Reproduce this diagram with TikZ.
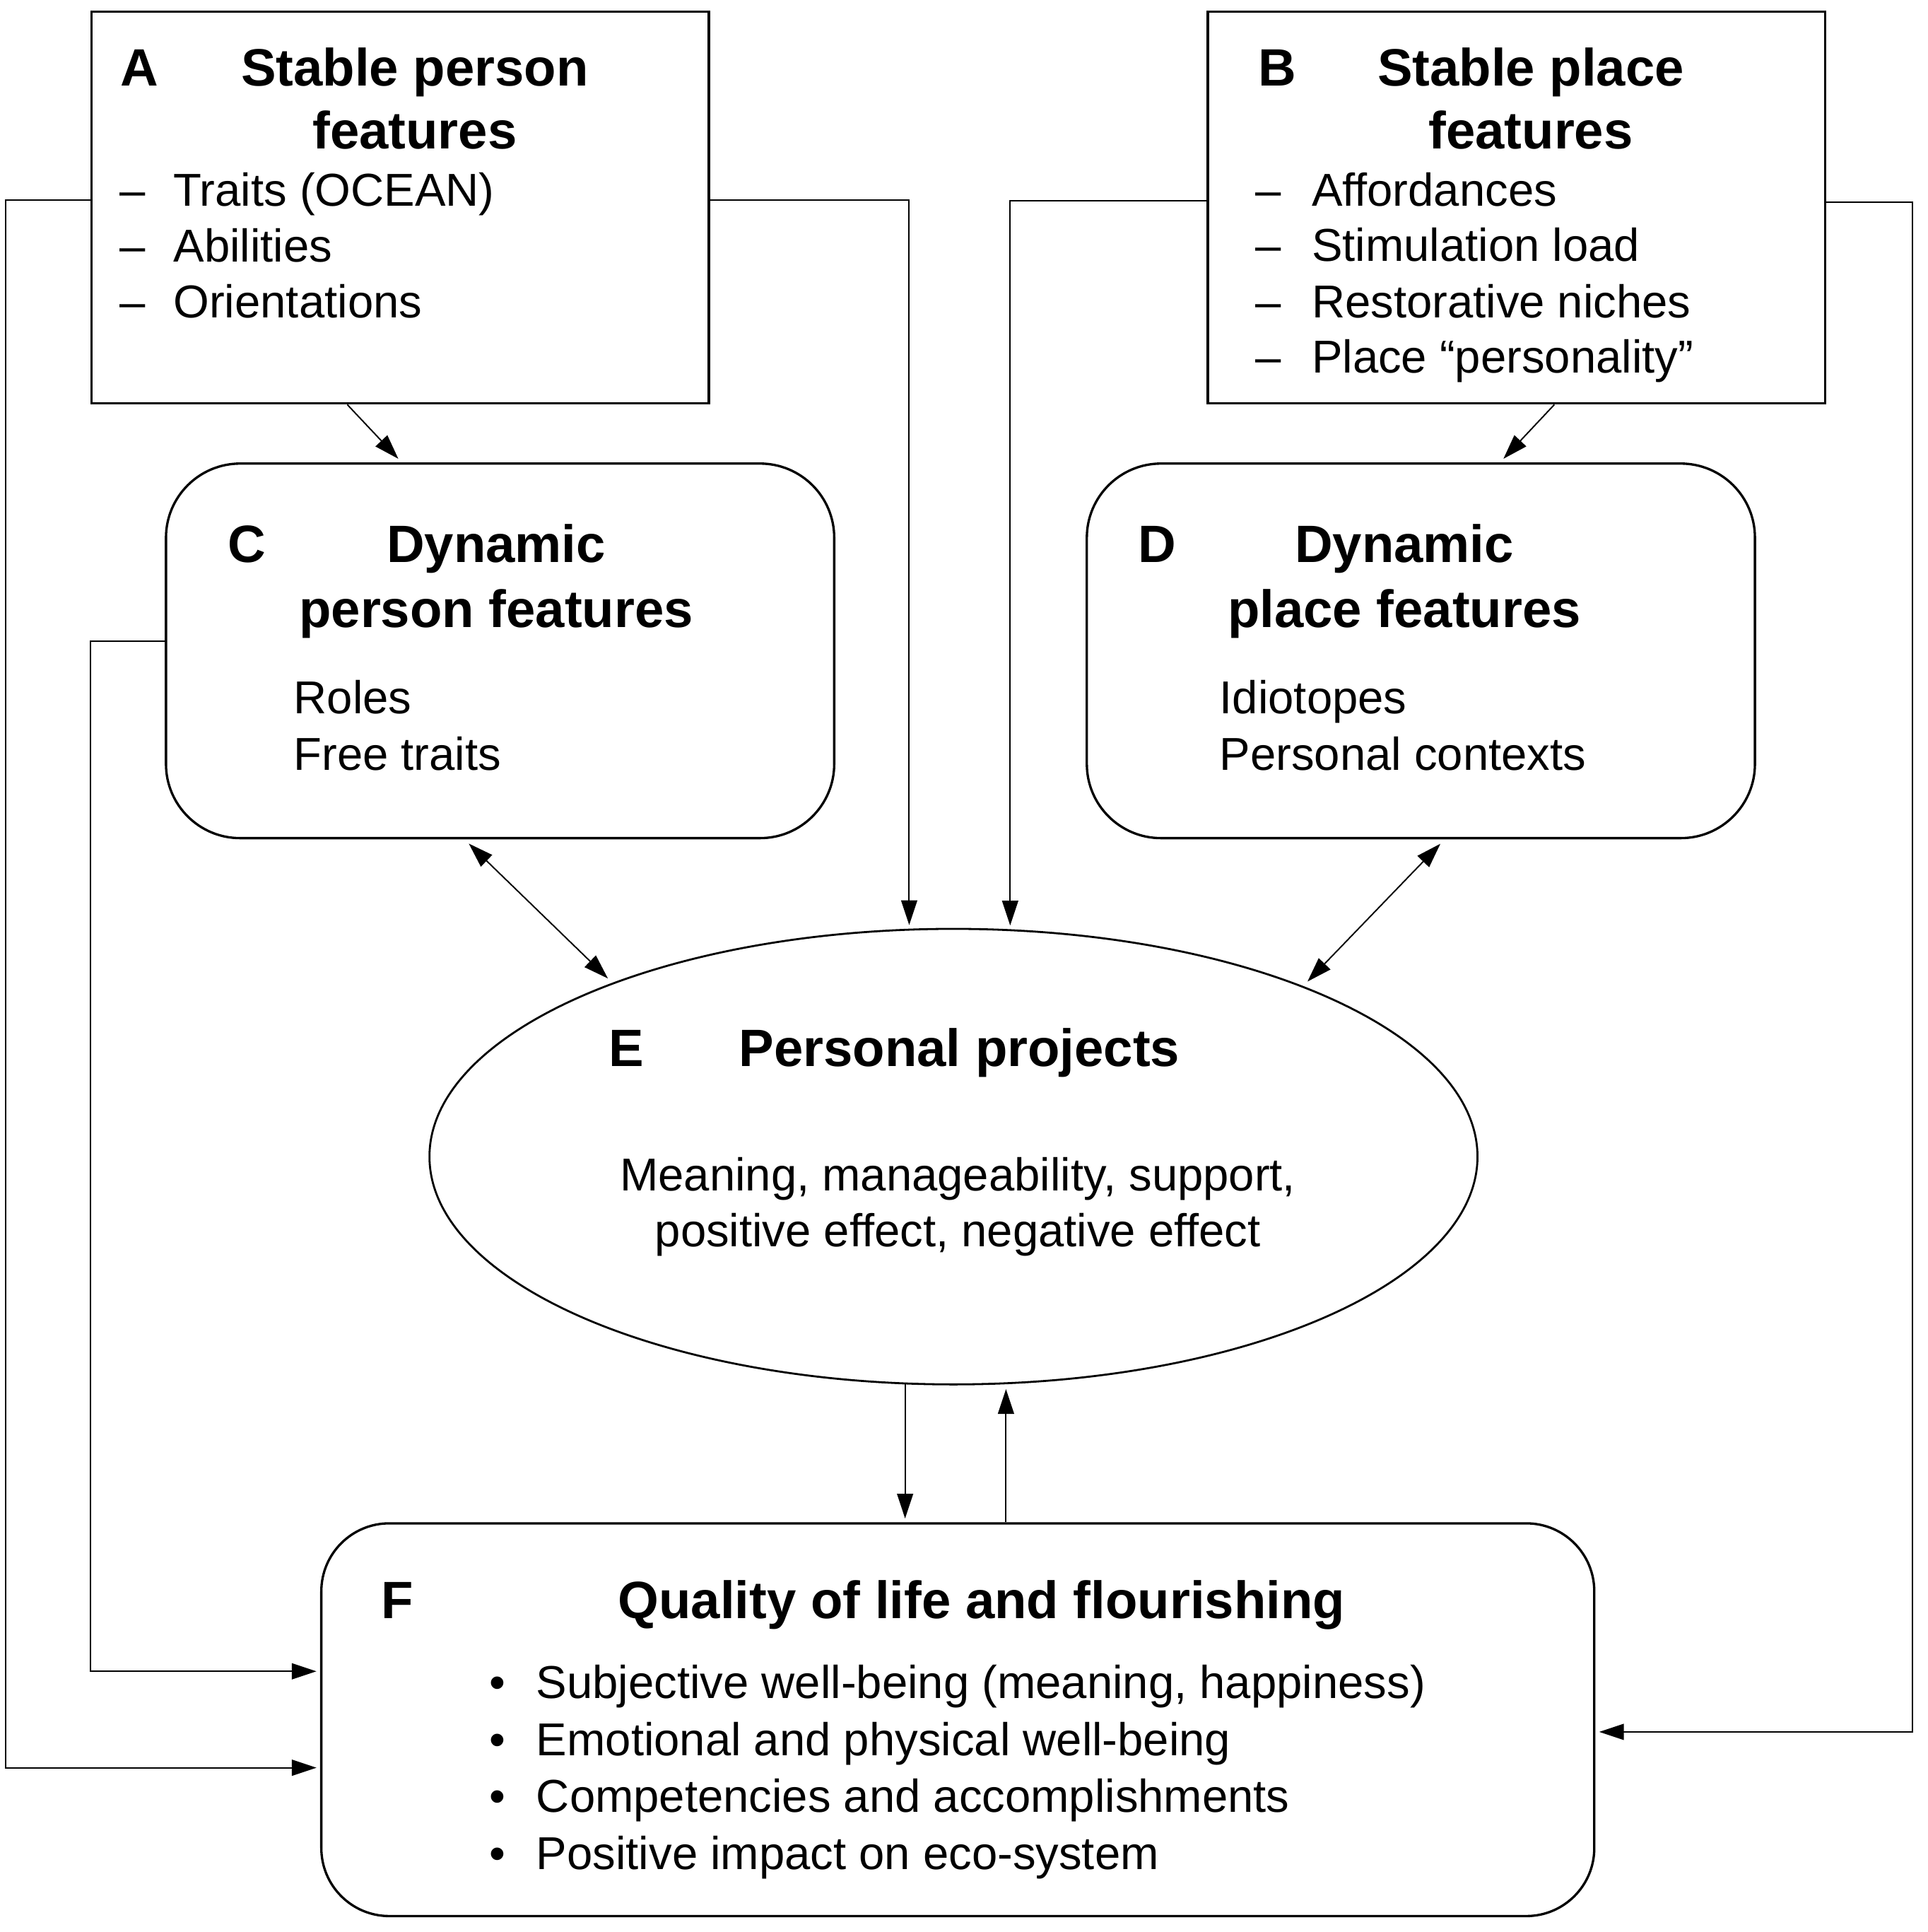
\documentclass[tikz,border=0pt]{standalone}
\usepackage{fontspec}
\setmainfont{Liberation Sans}
\usetikzlibrary{shapes.geometric,arrows.meta,calc}
\newcommand\ttlfont{\fontsize{21.25pt}{25pt}\selectfont\bfseries}
\newcommand\bodyfont{\fontsize{18.65pt}{23pt}\selectfont}
\begin{document}
\begin{tikzpicture}[x=0.5pt,y=-0.5pt,
  sqbox/.style={draw=black, line width=0.95pt, rectangle, inner sep=0pt},
  rbox/.style={draw=black, line width=0.95pt, rectangle, rounded corners=30pt, inner sep=0pt},
  ell/.style={draw=black, line width=0.8pt, ellipse, inner sep=0pt},
  conn/.style={line width=0.55pt, -{Triangle[length=10pt,width=6.5pt]}, shorten >=1.5pt},
  dconn/.style={line width=0.55pt, {Triangle[length=10pt,width=6.5pt]}-{Triangle[length=10pt,width=6.5pt]}, shorten >=2.5pt, shorten <=2.5pt},
  ttl/.style={inner sep=0pt, anchor=base, font=\ttlfont},
  ttlw/.style={inner sep=0pt, anchor=base west, font=\ttlfont},
  txt/.style={inner sep=0pt, anchor=base west, font=\bodyfont},
  txtc/.style={inner sep=0pt, anchor=base, font=\bodyfont},
]
\useasboundingbox (0,0) rectangle (1560,1562.9);

% ---------- boxes ----------
\node[sqbox, minimum width=249.75pt, minimum height=158.4pt] (A) at (323.75,168) {};
\node[sqbox, minimum width=249.7pt, minimum height=158.4pt] (B) at (1227,168) {};
\node[rbox, minimum width=270.35pt, minimum height=151.5pt] (C) at (404.65,526.5) {};
\node[rbox, minimum width=270.3pt, minimum height=151.5pt] (D) at (1149.7,526.5) {};
\node[ell, minimum width=424pt, minimum height=184.25pt] (E) at (771.5,935.65) {};
\node[rbox, rounded corners=27.5pt, minimum width=515pt, minimum height=158.85pt] (F) at (775,1391.15) {};

% ---------- texts A ----------
\node[ttlw] (Al) at (97.2,69.6) {A};
\node[ttl] (At1) at (335.6,69.6) {Stable person};
\node[ttl] (At2) at (335.6,120.5) {features};
\node[txt] (Ad1) at (96.6,166.8) {–};
\node[txt] (Ad2) at (96.6,211.6) {–};
\node[txt] (Ad3) at (96.6,256.8) {–};
\node[txt] (Ai1) at (140,166.8) {Traits (OCEAN)};
\node[txt] (Ai2) at (140,211.6) {Abilities};
\node[txt] (Ai3) at (140,256.8) {Orientations};

% ---------- texts B ----------
\node[ttlw] (Bl) at (1017.8,69.6) {B};
\node[ttl] (Bt1) at (1238.7,69.6) {Stable place};
\node[ttl] (Bt2) at (1238.7,120.5) {features};
\node[txt] (Bd1) at (1015.3,166.5) {–};
\node[txt] (Bd2) at (1015.3,211.5) {–};
\node[txt] (Bd3) at (1015.3,256.8) {–};
\node[txt] (Bd4) at (1015.3,301.9) {–};
\node[txt] (Bi1) at (1061,166.5) {Affordances};
\node[txt] (Bi2) at (1061,211.5) {Stimulation load};
\node[txt] (Bi3) at (1061,256.8) {Restorative niches};
\node[txt] (Bi4) at (1061,301.9) {Place “personality”};

% ---------- texts C ----------
\node[ttlw] (Cl) at (184,455) {C};
\node[ttl] (Ct1) at (401.5,455) {Dynamic};
\node[ttl] (Ct2) at (401.5,507.5) {person features};
\node[txt] (Ci1) at (237.3,577.5) {Roles};
\node[txt] (Ci2) at (237.3,623) {Free traits};

% ---------- texts D ----------
\node[ttlw] (Dl) at (920.3,455) {D};
\node[ttl] (Dt1) at (1136.3,455) {Dynamic};
\node[ttl] (Dt2) at (1136.3,507.5) {place features};
\node[txt] (Di1) at (986.5,577.5) {Idiotopes};
\node[txt] (Di2) at (986.5,623) {Personal contexts};

% ---------- texts E ----------
\node[ttlw] (El) at (492,862.4) {E};
\node[ttl] (Et) at (776.3,862.4) {Personal projects};
\node[txtc] (Ei1) at (775,963.4) {Meaning, manageability, support,};
\node[txtc] (Ei2) at (775,1008.2) {positive effect, negative effect};

% ---------- texts F ----------
\node[ttlw] (Fl) at (308.3,1309) {F};
\node[ttl] (Ft) at (794.2,1309) {Quality of life and flourishing};
\node[txt] (Fb1) at (395.8,1374) {•};
\node[txt] (Fb2) at (395.8,1420) {•};
\node[txt] (Fb3) at (395.8,1466) {•};
\node[txt] (Fb4) at (395.8,1512) {•};
\node[txt] (Fi1) at (433.6,1374) {Subjective well-being (meaning, happiness)};
\node[txt] (Fi2) at (433.6,1420) {Emotional and physical well-being};
\node[txt] (Fi3) at (433.6,1466) {Competencies and accomplishments};
\node[txt] (Fi4) at (433.6,1512) {Positive impact on eco-system};

% ---------- connectors ----------
\draw[conn, shorten >=2pt] ($(A.south west)+(208,0)$) -- ($(C.north west)+(191.7,0)$);
\draw[conn, shorten >=2pt] ($(B.south west)+(281.3,0)$) -- ($(D.north west)+(335.3,0)$);
\draw[dconn] ($(C.south west)+(242.4,0)$) -- (E.153.4);
\draw[dconn] ($(D.south west)+(290.5,0)$) -- (E.26.33);

\draw[conn] ($(A.east)+(0,-6)$) -| (E.101.55);
\draw[conn] ($(B.west)+(0,-5.5)$) -| (E.76.11);

\draw[conn] ($(A.west)+(0,-6)$) -- ++(-68.5,0) |- ($(F.west)+(0,38.85)$);
\draw[conn] ($(C.west)+(0,-7.7)$) -- ++(-60.3,0) |- ($(F.west)+(0,-39.15)$);
\draw[conn] ($(B.east)+(0,-4.4)$) -- ++(69.7,0) |- ($(F.east)+(0,9.85)$);

\draw[conn] (E.258.45) -- (E.258.45 |- F.north);
\draw[conn, shorten >=2pt] (E.283.89 |- F.north) -- (E.283.89);
\end{tikzpicture}
\end{document}
